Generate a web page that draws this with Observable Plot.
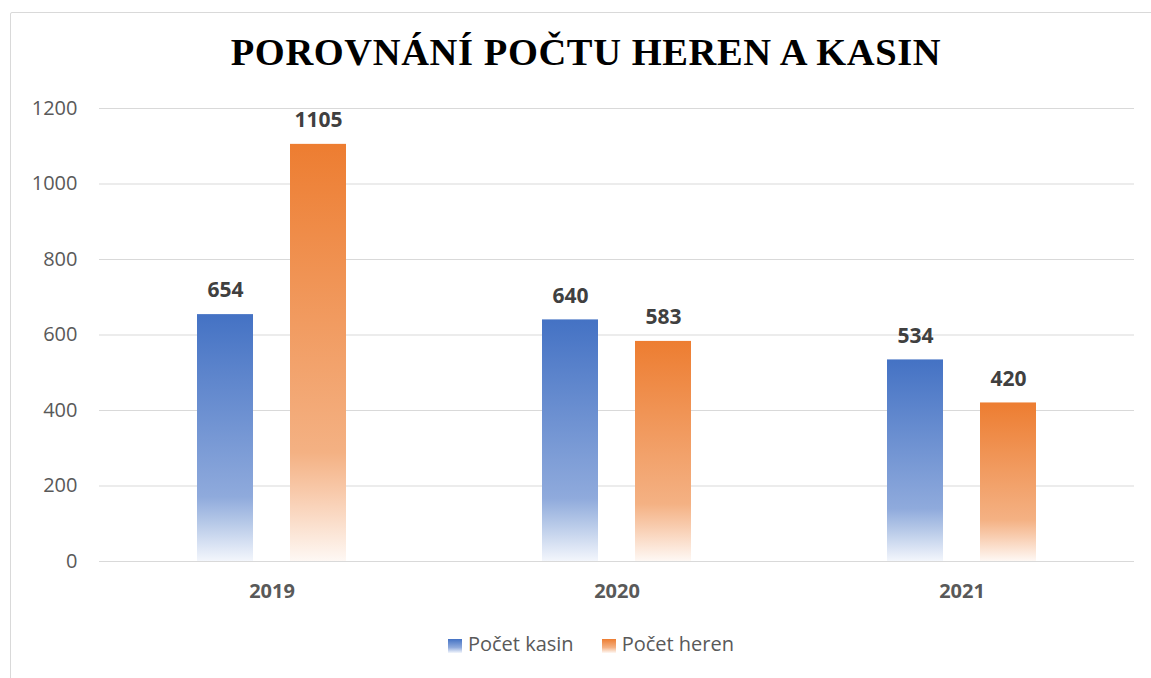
<!DOCTYPE html>
<html>
<head>
<meta charset="utf-8">
<script src="https://cdn.jsdelivr.net/npm/d3@7"></script>
<script src="https://cdn.jsdelivr.net/npm/@observablehq/plot@0.6"></script>
<style>
  html, body { margin: 0; padding: 0; background: #fff; }
  #page { position: relative; width: 1151px; height: 678px; overflow: hidden; background: #fff; }
  #frame { position: absolute; left: 10px; top: 12px; width: 1160px; height: 700px; border: 1px solid #d9d9d9; border-radius: 2px; box-sizing: border-box; }
  #title { position: absolute; left: 0; top: 30px; width: 1172px; text-align: center; font-family: "Liberation Serif", "DejaVu Serif", serif; font-weight: bold; font-size: 38.5px; color: #000; letter-spacing: 0.6px; white-space: nowrap; }
  #chart { position: absolute; left: 0; top: 0; }
  #legend { position: absolute; left: 0; top: 630px; width: 1182px; display: flex; justify-content: center; gap: 28px; font-family: "Open Sans", sans-serif; font-size: 20px; color: #595959; }
  .item { display: flex; align-items: center; gap: 6px; }
  .sw { width: 14px; height: 14px; margin-top: 4px; }
</style>
</head>
<body>
<div id="page">
  <div id="frame"></div>
  <div id="chart"></div>
  <div id="title">POROVNÁNÍ POČTU HEREN A KASIN</div>
  <div id="legend"></div>
</div>
<script>
const years = ["2019", "2020", "2021"];
const seriesNames = ["Počet kasin", "Počet heren"];
const kasin = [654, 640, 534];
const heren = [1105, 583, 420];
const yTicks = [0, 200, 400, 600, 800, 1000, 1200];
const seriesColors = ["#4472C4", "#ED7D31"];

const rows = [];
years.forEach((yr, i) => {
  rows.push({year: yr, series: seriesNames[0], value: kasin[i]});
  rows.push({year: yr, series: seriesNames[1], value: heren[i]});
});

const gradIds = ["gradBlue", "gradOrange"];
const gradStops = [
  [["0%", "#4472C4"], ["74%", "#8FAADC"], ["84%", "#B4C7E7"], ["100%", "#F3F6FC"]],
  [["0%", "#ED7D31"], ["74%", "#F4B183"], ["84%", "#F8CBAD"], ["100%", "#FEF8F4"]]
];

const labelFont = "'Open Sans', sans-serif";

const chart = Plot.plot({
  width: 1151,
  height: 612,
  marginTop: 108,
  marginBottom: 51,
  marginLeft: 98,
  marginRight: 17,
  style: { fontFamily: labelFont, background: "transparent" },
  fx: { domain: years, padding: 0, label: null },
  x: { domain: seriesNames, paddingInner: 0.394, paddingOuter: 1.037, axis: null },
  y: { domain: [0, 1200], label: null },
  marks: [
    Plot.gridY(yTicks, { stroke: "#d9d9d9", strokeOpacity: 1, strokeWidth: 1 }),
    Plot.axisY(yTicks, { tickSize: 0, tickPadding: 22, fontSize: 20, fill: "#595959", label: null, tickFormat: d => String(d) }),
    Plot.axisFx({ anchor: "bottom", tickSize: 0, tickPadding: 22, fontSize: 20, fontWeight: "bold", fill: "#595959", label: null }),
    Plot.barY(rows.filter(d => d.series === seriesNames[0]), { fx: "year", x: "series", y: "value", fill: "url(#gradBlue)" }),
    Plot.barY(rows.filter(d => d.series === seriesNames[1]), { fx: "year", x: "series", y: "value", fill: "url(#gradOrange)" }),
    Plot.text(rows, { fx: "year", x: "series", y: "value", text: d => String(d.value), dy: -24, fontSize: 21, fontWeight: "bold", fill: "#404040" })
  ]
});

const svg = d3.select(chart);
const defs = svg.insert("defs", ":first-child");
gradIds.forEach((id, k) => {
  const g = defs.append("linearGradient").attr("id", id).attr("x1", 0).attr("y1", 0).attr("x2", 0).attr("y2", 1);
  gradStops[k].forEach(([off, col]) => g.append("stop").attr("offset", off).attr("stop-color", col));
});
document.getElementById("chart").appendChild(chart);

const legend = document.getElementById("legend");
seriesNames.forEach((name, k) => {
  const item = document.createElement("div");
  item.className = "item";
  const sw = document.createElement("div");
  sw.className = "sw";
  const st = gradStops[k];
  sw.style.background = `linear-gradient(to bottom, ${st[0][1]} 0%, ${st[1][1]} 60%, ${st[3][1]} 100%)`;
  const label = document.createElement("span");
  label.textContent = name;
  item.appendChild(sw);
  item.appendChild(label);
  legend.appendChild(item);
});
</script>
</body>
</html>
